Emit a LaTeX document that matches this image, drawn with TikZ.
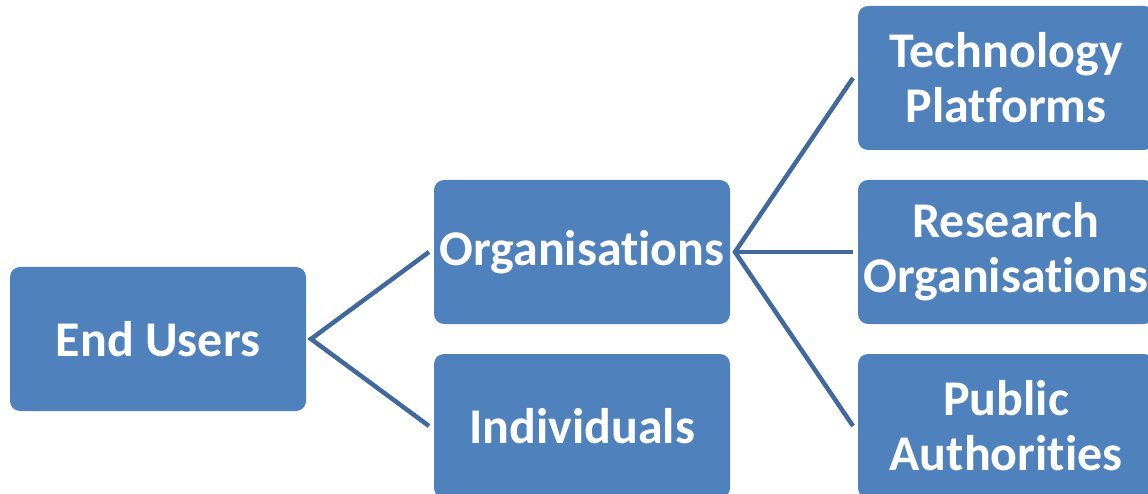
\documentclass[tikz,border=0pt]{standalone}
\usepackage{fontspec}
\setmainfont[Ligatures={NoCommon}]{Carlito}
\definecolor{boxfill}{HTML}{4F81BD}
\definecolor{linecol}{HTML}{41699C}
\begin{document}
\begin{tikzpicture}[x=1pt,y=-1pt,
  box/.style={draw=none, fill=boxfill, rounded corners=10pt, minimum width=296pt, minimum height=144pt,
    text=white, font=\fontsize{50}{55}\selectfont\bfseries, align=center, inner sep=0pt, outer sep=5pt},
  conn/.style={draw=linecol, line width=4.5pt}]
\useasboundingbox (0,0) rectangle (1148,494);
\clip (0,0) rectangle (1148,494);
\node[box] (eu) at (158,339) {End Users};
\node[box] (org) at (582,252) {Organisations};
\node[box] (ind) at (582,426) {Individuals};
\node[box] (tech) at (1006,78) {Technology\\Platforms};
\node[box] (res) at (1006,252) {Research\\Organisations};
\node[box] (pub) at (1006,426) {Public\\Authorities};
\draw[conn] (org.west) -- (eu.east) -- (ind.west);
\draw[conn] (tech.west) -- (org.east) -- (pub.west);
\draw[conn] (org.east) -- (res.west);
\end{tikzpicture}
\end{document}
